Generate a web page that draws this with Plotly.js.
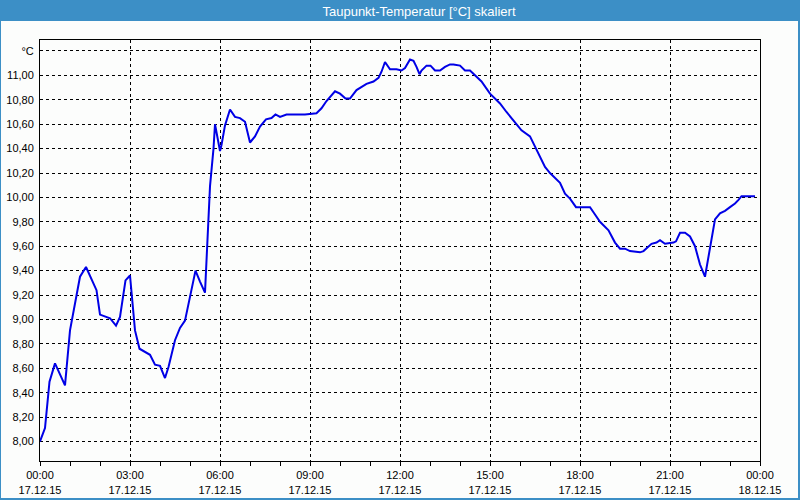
<!DOCTYPE html>
<html>
<head>
<meta charset="utf-8">
<script src="https://cdn.plot.ly/plotly-3.0.1.min.js"></script>
<style>
html,body{margin:0;padding:0;background:#fff;}
#chart{width:800px;height:500px;}
</style>
</head>
<body>
<div id="chart"></div>
<script>
const day = '2015-12-17';
const times = ['00:00','00:10','00:19','00:30','00:50','01:00','01:20','01:32','01:53','02:00','02:20','02:32','02:40','02:51','03:00','03:10','03:19','03:30','03:40','03:50','04:00','04:10','04:17','04:30','04:40','04:50','05:03','05:11','05:20','05:30','05:40','05:47','05:50','06:00','06:03','06:10','06:20','06:30','06:40','06:50','07:00','07:10','07:20','07:32','07:43','07:51','08:00','08:13','08:50','09:13','09:23','09:33','09:50','10:00','10:11','10:20','10:33','10:40','10:53','11:07','11:17','11:23','11:30','11:40','11:53','12:03','12:10','12:20','12:27','12:33','12:39','12:43','12:53','13:01','13:10','13:20','13:30','13:40','13:47','14:00','14:10','14:20','14:30','14:43','15:00','15:20','15:33','15:50','16:03','16:20','16:33','16:50','17:00','17:20','17:30','17:40','17:52','18:20','18:30','18:40','18:57','19:10','19:20','19:30','19:40','20:00','20:07','20:23','20:33','20:40','20:50','21:07','21:12','21:20','21:30','21:40','21:50','22:00','22:10','22:17','22:23','22:30','22:40','22:50','23:00','23:10','23:17','23:23','23:43','23:50'];
const dewpoint = [8.00,8.11,8.49,8.64,8.46,8.91,9.35,9.43,9.24,9.04,9.01,8.95,9.02,9.32,9.36,8.91,8.76,8.73,8.71,8.63,8.62,8.52,8.61,8.83,8.93,8.99,9.23,9.40,9.31,9.22,10.09,10.40,10.60,10.38,10.43,10.59,10.72,10.66,10.65,10.62,10.45,10.50,10.58,10.64,10.65,10.68,10.66,10.68,10.68,10.69,10.73,10.79,10.87,10.85,10.81,10.81,10.88,10.90,10.93,10.95,10.98,11.03,11.11,11.05,11.05,11.04,11.06,11.13,11.12,11.07,11.01,11.04,11.08,11.08,11.04,11.04,11.07,11.09,11.09,11.08,11.04,11.04,11.00,10.95,10.85,10.77,10.70,10.61,10.55,10.50,10.39,10.25,10.20,10.12,10.03,9.99,9.92,9.92,9.86,9.80,9.73,9.63,9.58,9.58,9.56,9.55,9.56,9.62,9.63,9.65,9.62,9.63,9.64,9.71,9.71,9.68,9.60,9.45,9.35,9.51,9.68,9.82,9.87,9.89,9.92,9.95,9.98,10.01,10.01,10.01];

const xTickVals = ['2015-12-17 00:00','2015-12-17 03:00','2015-12-17 06:00','2015-12-17 09:00','2015-12-17 12:00','2015-12-17 15:00','2015-12-17 18:00','2015-12-17 21:00','2015-12-18 00:00'];
const xTickText = ['00:00<br>17.12.15','03:00<br>17.12.15','06:00<br>17.12.15','09:00<br>17.12.15','12:00<br>17.12.15','15:00<br>17.12.15','18:00<br>17.12.15','21:00<br>17.12.15','00:00<br>18.12.15'];
const yTickVals = [8.0,8.2,8.4,8.6,8.8,9.0,9.2,9.4,9.6,9.8,10.0,10.2,10.4,10.6,10.8,11.0,11.2];
const yTickText = ['8,00','8,20','8,40','8,60','8,80','9,00','9,20','9,40','9,60','9,80','10,00','10,20','10,40','10,60','10,80','11,00','°C'];
const titleText = 'Taupunkt-Temperatur [°C] skaliert';

const W = 800, H = 500;
const M = {l: 40, r: 40, t: 40, b: 39};
const pw = W - M.l - M.r, ph = H - M.t - M.b;
const px = v => (v - M.l) / pw;
const py = v => (H - M.b - v) / ph;

const trace = {
  x: times.map(t => day + ' ' + t),
  y: dewpoint,
  type: 'scatter',
  mode: 'lines',
  line: {color: '#0000e6', width: 2},
  hoverinfo: 'skip'
};

const font = {family: '"Liberation Sans", Arial, sans-serif', size: 11, color: '#000'};

const layout = {
  width: W, height: H,
  margin: M,
  paper_bgcolor: '#3c8fc6',
  plot_bgcolor: '#ffffff',
  showlegend: false,
  font: font,
  title: {
    text: titleText,
    font: {family: '"Liberation Sans", Arial, sans-serif', size: 13, color: '#ffffff'},
    x: px(419), xref: 'paper', xanchor: 'center',
    y: 1 - 11 / H, yref: 'container', yanchor: 'middle'
  },
  shapes: [{
    type: 'rect', xref: 'paper', yref: 'paper', layer: 'below',
    x0: px(1), x1: px(798), y0: py(498), y1: py(21),
    fillcolor: '#fcfdfc', line: {width: 0}
  }],
  xaxis: {
    type: 'date',
    range: ['2015-12-17 00:00', '2015-12-18 00:00'],
    tickmode: 'array', tickvals: xTickVals, ticktext: xTickText,
    ticks: 'outside', ticklen: 4, tickcolor: '#000', tickwidth: 1,
    minor: {ticks: 'outside', ticklen: 4, tickcolor: '#000', dtick: 3600000, showgrid: false},
    showgrid: true, gridcolor: '#000', griddash: '3px,3px', gridwidth: 1,
    showline: true, linecolor: '#000', linewidth: 1, mirror: true,
    zeroline: false, tickfont: font, fixedrange: true
  },
  yaxis: {
    range: [7.84, 11.29],
    tickmode: 'array', tickvals: yTickVals, ticktext: yTickText,
    ticks: '', ticklabelstandoff: 3,
    showgrid: true, gridcolor: '#000', griddash: '3px,3px', gridwidth: 1,
    showline: true, linecolor: '#000', linewidth: 1, mirror: true,
    zeroline: false, tickfont: font, fixedrange: true
  }
};

Plotly.newPlot('chart', [trace], layout, {displayModeBar: false, staticPlot: true});
</script>
</body>
</html>
